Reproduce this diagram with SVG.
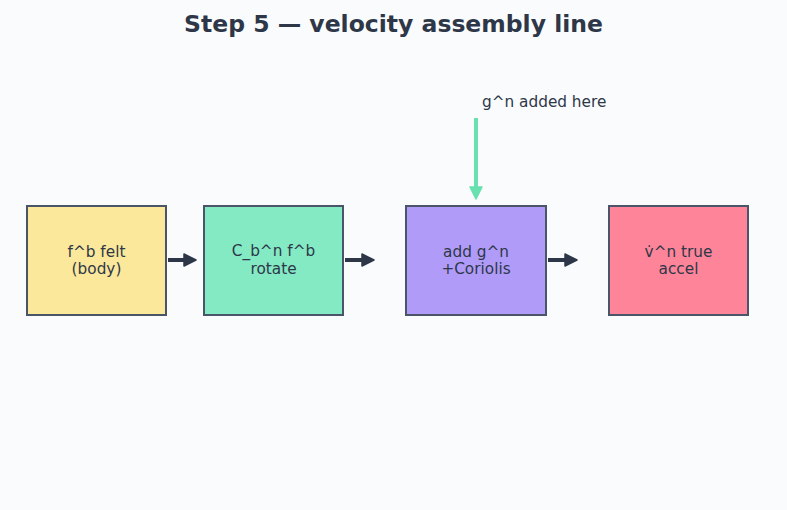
<svg xmlns="http://www.w3.org/2000/svg" width="787" height="510" viewBox="0 0 787 510">
<style>
.title{font-family:"DejaVu Sans",sans-serif;font-size:23.5px;font-weight:bold;fill:#2d3748;text-anchor:middle}
.lbl{font-family:"DejaVu Sans",sans-serif;font-size:15.3px;fill:#2d3748;text-anchor:middle}
.note{font-family:"DejaVu Sans",sans-serif;font-size:15.3px;fill:#2d3748}
.box{stroke:#4a5568;stroke-width:2}
.conn{stroke:#2d3748;stroke-width:4;fill:none;marker-end:url(#ah)}
</style>
<defs>
<marker id="ah" markerWidth="16" markerHeight="16" refX="3" refY="8" orient="auto" markerUnits="userSpaceOnUse">
<path d="M2,2 L14,8 L2,14 Z" fill="#2d3748" stroke="#2d3748" stroke-width="1.5" stroke-linejoin="round"/>
</marker>
<marker id="ahg" markerWidth="16" markerHeight="16" refX="3" refY="8" orient="auto" markerUnits="userSpaceOnUse">
<path d="M2,2 L14,8 L2,14 Z" fill="#68e0b0" stroke="#68e0b0" stroke-width="1.5" stroke-linejoin="round"/>
</marker>
</defs>
<rect width="787" height="510" fill="#fafbfd"/>
<text class="title" x="393.5" y="32">Step 5 — velocity assembly line</text>
<g id="node1"><rect class="box" x="27" y="206" width="139" height="109" fill="#fce89a"/><text class="lbl" x="96.5" y="257">f^b felt</text><text class="lbl" x="96.5" y="274">(body)</text></g>
<g id="node2"><rect class="box" x="204" y="206" width="139" height="109" fill="#84eac4"/><text class="lbl" x="273.5" y="256">C_b^n f^b</text><text class="lbl" x="273.5" y="274">rotate</text></g>
<g id="node3"><rect class="box" x="406" y="206" width="140" height="109" fill="#b09cf8"/><text class="lbl" x="476" y="257">add g^n</text><text class="lbl" x="476" y="274">+Coriolis</text></g>
<g id="node4"><rect class="box" x="609" y="206" width="139" height="109" fill="#fe8599"/><text class="lbl" x="678.5" y="257">v̇^n true</text><text class="lbl" x="678.5" y="274">accel</text></g>
<g id="connectors">
<line class="conn" x1="168" y1="260" x2="185" y2="260"/>
<line class="conn" x1="345" y1="260" x2="363" y2="260"/>
<line class="conn" x1="548" y1="260" x2="566" y2="260"/>
<line x1="476" y1="118" x2="476" y2="188" stroke="#68e0b0" stroke-width="4" marker-end="url(#ahg)"/>
</g>
<text class="note" x="482" y="107">g^n added here</text>
</svg>
